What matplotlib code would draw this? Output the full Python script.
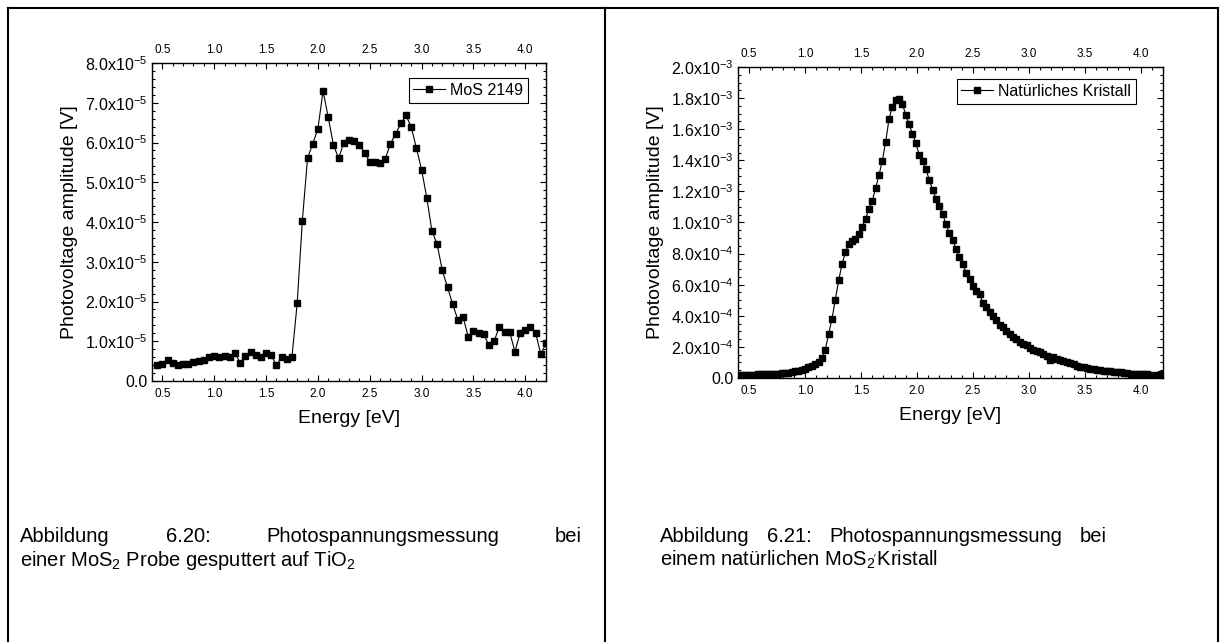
import matplotlib
matplotlib.use('Agg')
import matplotlib.pyplot as plt
from matplotlib.ticker import MultipleLocator, FixedLocator, FuncFormatter
from matplotlib.lines import Line2D

plt.rcParams['font.family'] = 'Liberation Sans'
plt.rcParams['mathtext.fontset'] = 'custom'
plt.rcParams['mathtext.rm'] = 'Liberation Sans'
plt.rcParams['mathtext.it'] = 'Liberation Sans:italic'
plt.rcParams['mathtext.bf'] = 'Liberation Sans:bold'

# left panel: MoS 2149 (values in 1e-5 V)
energy_left = [0.45, 0.50, 0.55, 0.60, 0.65, 0.70, 0.75, 0.80, 0.85, 0.90,
               0.95, 1.00, 1.05, 1.10, 1.15, 1.20, 1.25, 1.30, 1.35, 1.40,
               1.45, 1.50, 1.55, 1.60, 1.65, 1.70, 1.75, 1.80, 1.85, 1.90,
               1.95, 2.00, 2.05, 2.10, 2.15, 2.20, 2.25, 2.30, 2.35, 2.40,
               2.45, 2.50, 2.55, 2.60, 2.65, 2.70, 2.75, 2.80, 2.85, 2.90,
               2.95, 3.00, 3.05, 3.10, 3.15, 3.20, 3.25, 3.30, 3.35, 3.40,
               3.45, 3.50, 3.55, 3.60, 3.65, 3.70, 3.75, 3.80, 3.85, 3.90,
               3.95, 4.00, 4.05, 4.10, 4.15, 4.20]
volt_left = [0.39, 0.42, 0.53, 0.46, 0.40, 0.42, 0.44, 0.49, 0.51, 0.52,
             0.60, 0.64, 0.60, 0.62, 0.60, 0.70, 0.46, 0.63, 0.74, 0.65,
             0.60, 0.70, 0.65, 0.39, 0.61, 0.55, 0.61, 1.95, 4.03, 5.60,
             5.97, 6.34, 7.30, 6.63, 5.94, 5.60, 6.00, 6.07, 6.04, 5.94,
             5.74, 5.52, 5.51, 5.48, 5.59, 5.97, 6.22, 6.48, 6.68, 6.39,
             5.86, 5.32, 4.61, 3.77, 3.44, 2.78, 2.36, 1.93, 1.54, 1.61,
             1.11, 1.27, 1.20, 1.17, 0.90, 1.01, 1.36, 1.24, 1.23, 0.74,
             1.20, 1.28, 1.35, 1.21, 0.67, 0.95]

# right panel: natural crystal (values in 1e-3 V)
energy_right = [0.40, 0.43, 0.46, 0.49, 0.52, 0.55, 0.58, 0.61, 0.64, 0.67,
                0.70, 0.73, 0.76, 0.79, 0.82, 0.85, 0.88, 0.91, 0.94, 0.97,
                1.00, 1.03, 1.06, 1.09, 1.12, 1.15, 1.18, 1.21, 1.24, 1.27,
                1.30, 1.33, 1.36, 1.39, 1.42, 1.45, 1.48, 1.51, 1.54, 1.57,
                1.60, 1.63, 1.66, 1.69, 1.72, 1.75, 1.78, 1.81, 1.84, 1.87,
                1.90, 1.93, 1.96, 1.99, 2.02, 2.05, 2.08, 2.11, 2.14, 2.17,
                2.20, 2.23, 2.26, 2.29, 2.32, 2.35, 2.38, 2.41, 2.44, 2.47,
                2.50, 2.53, 2.56, 2.59, 2.62, 2.65, 2.68, 2.71, 2.74, 2.77,
                2.80, 2.83, 2.86, 2.89, 2.92, 2.95, 2.98, 3.01, 3.04, 3.07,
                3.10, 3.13, 3.16, 3.19, 3.22, 3.25, 3.28, 3.31, 3.34, 3.37,
                3.40, 3.43, 3.46, 3.49, 3.52, 3.55, 3.58, 3.61, 3.64, 3.67,
                3.70, 3.73, 3.76, 3.79, 3.82, 3.85, 3.88, 3.91, 3.94, 3.97,
                4.00, 4.03, 4.06, 4.09, 4.12, 4.15, 4.18]
volt_right = [0.020, 0.020, 0.021, 0.021, 0.022, 0.022, 0.023, 0.023, 0.024, 0.025,
              0.026, 0.027, 0.028, 0.030, 0.032, 0.035, 0.038, 0.042, 0.047, 0.053,
              0.060, 0.068, 0.077, 0.090, 0.106, 0.127, 0.180, 0.281, 0.379, 0.504,
              0.628, 0.731, 0.808, 0.860, 0.883, 0.896, 0.928, 0.973, 1.022, 1.087,
              1.138, 1.220, 1.303, 1.397, 1.516, 1.664, 1.745, 1.788, 1.794, 1.762,
              1.693, 1.631, 1.571, 1.511, 1.434, 1.398, 1.342, 1.275, 1.211, 1.153,
              1.108, 1.055, 0.988, 0.930, 0.887, 0.830, 0.780, 0.733, 0.677, 0.635,
              0.594, 0.562, 0.538, 0.484, 0.455, 0.427, 0.401, 0.373, 0.341, 0.325,
              0.302, 0.283, 0.265, 0.248, 0.232, 0.220, 0.212, 0.195, 0.182, 0.172,
              0.165, 0.155, 0.143, 0.118, 0.135, 0.125, 0.116, 0.108, 0.101, 0.094,
              0.088, 0.080, 0.073, 0.068, 0.064, 0.060, 0.056, 0.052, 0.049, 0.047,
              0.045, 0.043, 0.041, 0.041, 0.040, 0.034, 0.030, 0.028, 0.026, 0.027,
              0.028, 0.027, 0.026, 0.022, 0.015, 0.020, 0.026]

W, H = 1226, 642
fig = plt.figure(figsize=(W / 100, H / 100), dpi=100)


def fx(px):
    return px / W


def fy(py):
    return 1 - py / H


# table frame around the two figures
for xs, ys in [([8, 1218], [8, 8]), ([8, 8], [8, 642]),
               ([605, 605], [8, 642]), ([1218, 1218], [8, 642])]:
    fig.add_artist(Line2D([fx(x) for x in xs], [fy(y) for y in ys],
                          color='black', lw=1.5))


def fmt_left(v, pos):
    if abs(v) < 1e-9:
        return '0.0'
    return f'{v:.1f}x10$^{{-5}}$'


def fmt_right(v, pos):
    if abs(v) < 1e-9:
        return '0.0'
    if v < 0.999:
        return f'{v * 10:.1f}x10$^{{-4}}$'
    return f'{v:.1f}x10$^{{-3}}$'


def panel(box, e, v, ymax, ystep, yminor, fmt, label, legend_anchor):
    x0, y0, x1, y1 = box
    ax = fig.add_axes([fx(x0), fy(y1), (x1 - x0) / W, (y1 - y0) / H])
    ax.plot(e, v, '-', color='black', lw=0.8, marker='s', ms=5,
            mfc='black', mec='black', label=label)
    ax.set_xlim(0.4, 4.2)
    ax.set_ylim(0, ymax)
    ax.xaxis.set_major_locator(MultipleLocator(0.5))
    ax.xaxis.set_minor_locator(MultipleLocator(0.1))
    ticks = [i * ystep for i in range(int(round(ymax / ystep)) + 1)]
    ax.yaxis.set_major_locator(FixedLocator(ticks))
    ax.yaxis.set_minor_locator(MultipleLocator(yminor))
    ax.yaxis.set_major_formatter(FuncFormatter(fmt))
    ax.tick_params(which='both', direction='in', top=True, right=True,
                   labeltop=True, width=0.8)
    ax.tick_params(which='major', length=4.5)
    ax.tick_params(which='minor', length=2.5)
    ax.tick_params(axis='x', labelsize=8.5, pad=5)
    ax.tick_params(axis='y', labelsize=11.5, pad=3)
    for s in ax.spines.values():
        s.set_linewidth(1.0)
    ax.set_xlabel('Energy [eV]', fontsize=14, labelpad=7)
    ax.set_ylabel('Photovoltage amplitude [V]', fontsize=14, labelpad=5)
    ax.legend(loc='upper right', bbox_to_anchor=legend_anchor, fontsize=11.5,
              frameon=True, fancybox=False, edgecolor='black', framealpha=1,
              borderpad=0.3, handlelength=2.0, handletextpad=0.3,
              borderaxespad=0, numpoints=1).get_frame().set_linewidth(0.8)
    return ax


panel((152, 63, 546, 381), energy_left, volt_left, 8.0, 1.0, 0.2, fmt_left,
      'MoS 2149', (0.954, 0.953))
panel((738, 67, 1163, 378), energy_right, volt_right, 2.0, 0.2, 0.05,
      fmt_right, 'Natürliches Kristall', (0.936, 0.961))

renderer = fig.canvas.get_renderer()


def justified(words, x0, x1, y, size=14.5):
    texts = [fig.text(fx(x0), fy(y), w, fontsize=size, va='baseline')
             for w in words]
    widths = [t.get_window_extent(renderer).width for t in texts]
    gap = (x1 - x0 - sum(widths)) / (len(words) - 1)
    pos = x0
    for t, w in zip(texts, widths):
        t.set_x(fx(pos))
        pos += w + gap


justified(['Abbildung', '6.20:', 'Photospannungsmessung', 'bei'], 20, 582, 542)
fig.text(fx(20), fy(566), 'einer MoS$_2$ Probe gesputtert auf TiO$_2$',
         fontsize=14.5, va='baseline')

justified(['Abbildung', '6.21:', 'Photospannungsmessung', 'bei'], 660, 1107, 542)
fig.text(fx(660), fy(566), 'einem natürlichen MoS$_{2\\mathrm{\'}}$Kristall',
         fontsize=14.5, va='baseline')

fig.savefig('out.png', dpi=100)
